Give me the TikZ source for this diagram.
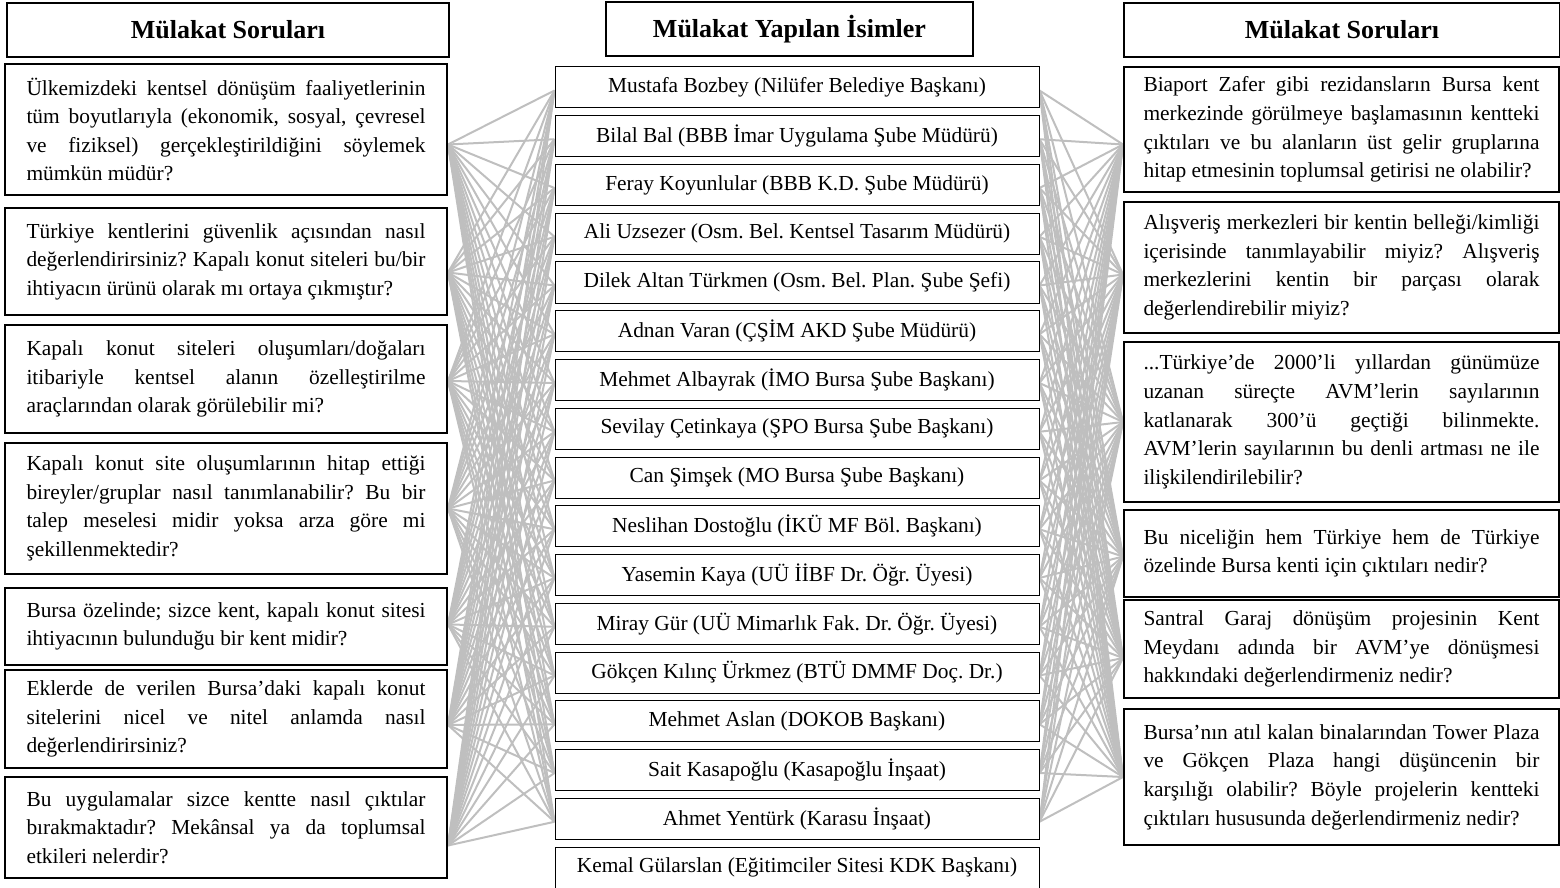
\documentclass[tikz,border=0pt]{standalone}
\usepackage{fontspec}
\setmainfont{Liberation Serif}
\usetikzlibrary{positioning,backgrounds}
\frenchspacing
\hyphenpenalty=10000
\exhyphenpenalty=10000

\begin{document}
\begin{tikzpicture}[x=0.5pt, y=-0.5pt,
    titlebox/.style={draw, line width=1pt, fill=white, minimum width=#1, minimum height=27pt, inner sep=0pt, font=\fontsize{13}{15}\selectfont\bfseries},
    qbox/.style={draw, line width=1pt, fill=white, text width=199.5pt, inner xsep=10.75pt, inner ysep=0pt, align=justify, font=\fontsize{10.7}{14.3}\selectfont},
    rbox/.style={qbox, text width=198pt, inner xsep=9.75pt},
    namebox/.style={draw, line width=0.5pt, fill=white, minimum width=242pt, minimum height=20.5pt, inner sep=0pt, font=\fontsize{10.7}{12}\selectfont},
    link/.style={black!25, line width=1pt}]

            \useasboundingbox (0,0) rectangle (1560,888);

            % Headers
            \node[titlebox=221pt] (tl) at (228,30) {Mülakat Soruları};
            \node[titlebox=183.5pt] (tm) at (789.5,29) {Mülakat Yapılan İsimler};
            \node[titlebox=218pt] (tr) at (1342,30) {Mülakat Soruları};

            % Left questions
            \node[qbox, minimum height=65.5pt] (q1) at (226,129.5) {Ülkemizdeki kentsel dönüşüm faaliyetlerinin\linebreak tüm boyutlarıyla (ekonomik, sosyal, çevresel\linebreak ve fiziksel) gerçekleştirildiğini söylemek\linebreak mümkün müdür?};
            \node[qbox, minimum height=53.5pt] (q2) at (226,261.5) {Türkiye kentlerini güvenlik açısından nasıl\linebreak değerlendirirsiniz? Kapalı konut siteleri bu/bir\linebreak ihtiyacın ürünü olarak mı ortaya çıkmıştır?};
            \node[qbox, minimum height=54pt] (q3) at (226,379) {Kapalı konut siteleri oluşumları/doğaları\linebreak itibariyle kentsel alanın özelleştirilme\linebreak araçlarından olarak görülebilir mi?};
            \node[qbox, minimum height=65.5pt] (q4) at (226,508.5) {Kapalı konut site oluşumlarının hitap ettiği\linebreak bireyler/gruplar nasıl tanımlanabilir? Bu bir\linebreak talep meselesi midir yoksa arza göre mi\linebreak şekillenmektedir?};
            \node[qbox, minimum height=38.5pt] (q5) at (226,626.5) {Bursa özelinde; sizce kent, kapalı konut sitesi\linebreak ihtiyacının bulunduğu bir kent midir?};
            \node[qbox, minimum height=49pt] (q6) at (226,719) {Eklerde de verilen Bursa’daki kapalı konut\linebreak sitelerini nicel ve nitel anlamda nasıl\linebreak değerlendirirsiniz?};
            \node[qbox, minimum height=50.5pt] (q7) at (226,827.5) {Bu uygulamalar sizce kentte nasıl çıktılar\linebreak bırakmaktadır? Mekânsal ya da toplumsal\linebreak etkileri nelerdir?};

            % Interviewees
            \foreach \name [count=\i] in {Mustafa Bozbey (Nilüfer Belediye Başkanı),
                Bilal Bal (BBB İmar Uygulama Şube Müdürü),
                Feray Koyunlular (BBB K.D. Şube Müdürü),
                Ali Uzsezer (Osm. Bel. Kentsel Tasarım Müdürü),
                Dilek Altan Türkmen (Osm. Bel. Plan. Şube Şefi),
                Adnan Varan (ÇŞİM AKD Şube Müdürü),
                Mehmet Albayrak (İMO Bursa Şube Başkanı),
                Sevilay Çetinkaya (ŞPO Bursa Şube Başkanı),
                Can Şimşek (MO Bursa Şube Başkanı),
                Neslihan Dostoğlu (İKÜ MF Böl. Başkanı),
                Yasemin Kaya (UÜ İİBF Dr. Öğr. Üyesi),
                Miray Gür (UÜ Mimarlık Fak. Dr. Öğr. Üyesi),
                Gökçen Kılınç Ürkmez (BTÜ DMMF Doç. Dr.),
                Mehmet Aslan (DOKOB Başkanı),
                Sait Kasapoğlu (Kasapoğlu İnşaat),
                Ahmet Yentürk (Karasu İnşaat),
                Kemal Gülarslan (Eğitimciler Sitesi KDK Başkanı)}
                \node[namebox] (m\i) at (797,{87.5+48.75*(\i-1)}) {\name};

            % Right questions
            \node[rbox, minimum height=62.5pt] (r1) at (1341.5,129.5) {Biaport Zafer gibi rezidansların Bursa kent\linebreak merkezinde görülmeye başlamasının kentteki\linebreak çıktıları ve bu alanların üst gelir gruplarına\linebreak hitap etmesinin toplumsal getirisi ne olabilir?};
            \node[rbox, minimum height=65.5pt] (r2) at (1341.5,267.5) {Alışveriş merkezleri bir kentin belleği/kimliği\linebreak içerisinde tanımlayabilir miyiz? Alışveriş\linebreak merkezlerini kentin bir parçası olarak\linebreak değerlendirebilir miyiz?};
            \node[rbox, minimum height=80pt] (r3) at (1341.5,422) {...Türkiye’de 2000’li yıllardan günümüze\linebreak uzanan süreçte AVM’lerin sayılarının\linebreak katlanarak 300’ü geçtiği bilinmekte.\linebreak AVM’lerin sayılarının bu denli artması ne ile\linebreak ilişkilendirilebilir?};
            \node[rbox, minimum height=43.5pt] (r4) at (1341.5,553.5) {Bu niceliğin hem Türkiye hem de Türkiye\linebreak özelinde Bursa kenti için çıktıları nedir?};
            \node[rbox, minimum height=49pt] (r5) at (1341.5,649) {Santral Garaj dönüşüm projesinin Kent\linebreak Meydanı adında bir AVM’ye dönüşmesi\linebreak hakkındaki değerlendirmeniz nedir?};
            \node[rbox, minimum height=68pt] (r6) at (1341.5,777) {Bursa’nın atıl kalan binalarından Tower Plaza\linebreak ve Gökçen Plaza hangi düşüncenin bir\linebreak karşılığı olabilir? Böyle projelerin kentteki\linebreak çıktıları hususunda değerlendirmeniz nedir?};

            % Ports where the links meet the boxes
            \foreach \i/\d in {1/15,2/11,3/2,4/0,5/-2,6/6,7/18}
                \coordinate (qp\i) at ([yshift={-0.5pt*\d}]q\i.east);
            \foreach \i/\d in {1/15,2/7,3/0,4/3,5/9,6/0}
                \coordinate (rp\i) at ([yshift={-0.5pt*\d}]r\i.west);
            \foreach \j in {1,...,16} {
                \coordinate (ml\j) at ([yshift=-1.5pt]m\j.west);
                \coordinate (mr\j) at ([yshift=-1.5pt]m\j.east);
            }

            % Links (every question to every interviewee)
            \begin{scope}[on background layer]
                \foreach \i in {1,...,7}
                    \foreach \j in {1,...,16}
                        \draw[link] (qp\i) -- (ml\j);
                \foreach \i in {1,...,6}
                    \foreach \j in {1,...,16}
                        \draw[link] (mr\j) -- (rp\i);
            \end{scope}

        \end{tikzpicture}
\end{document}
